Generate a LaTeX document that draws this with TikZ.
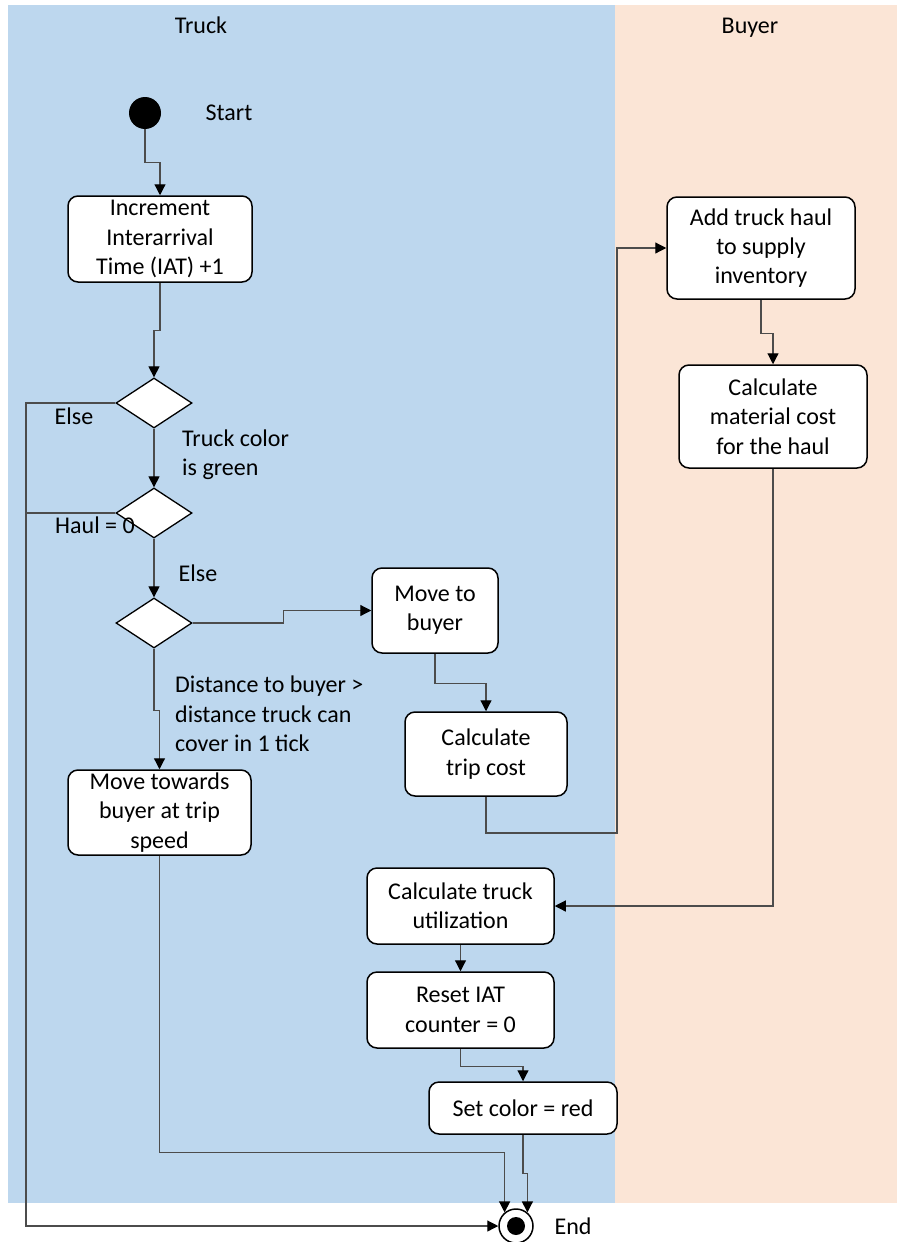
\documentclass[tikz,border=0pt]{standalone}
\usepackage{fontspec}
\setmainfont{Carlito}
\usetikzlibrary{shapes.geometric,arrows.meta}
\definecolor{truckblue}{HTML}{BDD7EE}
\definecolor{buyerpeach}{HTML}{FBE5D6}
\tikzstyle{activity} = [align=center,draw=black,fill=white,line width=1.5pt,rectangle,rounded corners=10pt,inner sep=0pt,font=\fontsize{24}{29.3}\selectfont]
\tikzstyle{decision} = [draw=black,fill=white,line width=1.3pt,diamond,inner sep=0pt,minimum width=76pt,minimum height=50pt]
\tikzstyle{txt} = [align=left,inner sep=0pt,font=\fontsize{24}{29.3}\selectfont]
\tikzstyle{flow} = [draw=black!70,line width=1.2pt]

\begin{document}
\begin{tikzpicture}[x=1pt,y=-1pt,>={Triangle[length=11pt,width=11pt,color=black]}]
	\useasboundingbox (0,0) rectangle (897,1242);
	% swimlanes
	\fill [truckblue] (8,5) rectangle (615,1203);
	\fill [buyerpeach] (615,5) rectangle (897,1203);
	\node (truck) [txt,anchor=base] at (201,33) {Truck};
	\node (buyer) [txt,anchor=base] at (750,33) {Buyer};
	% truck lane
	\node (start) [circle,fill=black,minimum size=32pt,inner sep=0pt] at (145,113) {};
	\node (starttxt) [txt] at (229,113) {Start};
	\node (inc) [activity,minimum width=184pt,minimum height=86pt] at (160,239) {Increment\\Interarrival\\Time (IAT) +1};
	\node (d1) [decision] at (154,403) {};
	\node (d2) [decision] at (154,513) {};
	\node (d3) [decision] at (154,623) {};
	\node (else1) [txt] at (74,416) {Else};
	\node (green) [txt,anchor=west] at (182,455) {Truck color\\is green};
	\node (haul) [txt] at (95,525) {Haul = 0};
	\node (else2) [txt] at (198,573) {Else};
	\node (dist) [txt,anchor=west] at (175,714) {Distance to buyer >\\distance truck can\\cover in 1 tick};
	\node (movebuyer) [activity,minimum width=126pt,minimum height=85pt] at (435,610.5) {Move to\\buyer};
	\node (tripcost) [activity,minimum width=162pt,minimum height=84pt] at (486,754) {Calculate\\trip cost};
	\node (towards) [activity,minimum width=183pt,minimum height=85pt] at (159.5,812.5) {Move towards\\buyer at trip\\speed};
	\node (util) [activity,minimum width=187pt,minimum height=76pt] at (460.5,906) {Calculate truck\\utilization};
	\node (reset) [activity,minimum width=187pt,minimum height=76pt] at (460.5,1010) {Reset IAT\\counter = 0};
	\node (setcolor) [activity,minimum width=188pt,minimum height=52pt] at (523,1108) {Set color = red};
	% buyer lane
	\node (addhaul) [activity,minimum width=188pt,minimum height=102pt] at (761,248) {Add truck haul\\to supply\\inventory};
	\node (matcost) [activity,minimum width=188pt,minimum height=103pt] at (773,416.5) {Calculate\\material cost\\for the haul};
	% end
	\node (endnode) [circle,draw=black,fill=white,line width=1.5pt,minimum size=34pt,inner sep=0pt] at (516,1226) {};
	\node (enddot) [circle,fill=black,minimum size=18pt,inner sep=0pt] at (endnode) {};
	\node (endtxt) [txt] at (573,1226) {End};
	\coordinate (corner) at (26,1226);
	\coordinate (via) at (617,833);
	% connections
	\draw [flow,->] (start.south) -- ++(0,33) -| (inc.north);
	\draw [flow,->] (inc.south) -- ++(0,48) -| (d1.north);
	\draw [flow,->] (d1.south) -- (d2.north);
	\draw [flow,->] (d2.south) -- (d3.north);
	\draw [flow,->] (d1.west) -| (corner) -- (endnode.west);
	\draw [flow] (d2.west) -- (d2.west -| corner);
	\draw [flow,->] (d3.east) -- ++(91,0) |- (movebuyer.west);
	\draw [flow,->] (d3.south) -- ++(0,62) -| (towards.north);
	\draw [flow,->] (movebuyer.south) -- ++(0,30) -| (tripcost.north);
	\draw [flow,->] (tripcost.south) |- (via) |- (addhaul.west);
	\draw [flow,->] (addhaul.south) -- ++(0,34) -| (matcost.north);
	\draw [flow,->] (matcost.south) |- (util.east);
	\draw [flow,->] (util.south) -- (reset.north);
	\draw [flow,->] (reset.south) -- ++(0,18) -| (setcolor.north);
	\draw [flow,->] (setcolor.south) -- ++(0,39) -| (endnode.50);
	\draw [flow,->] (towards.south) -- ++(0,297) -| (endnode.130);
\end{tikzpicture}
\end{document}
